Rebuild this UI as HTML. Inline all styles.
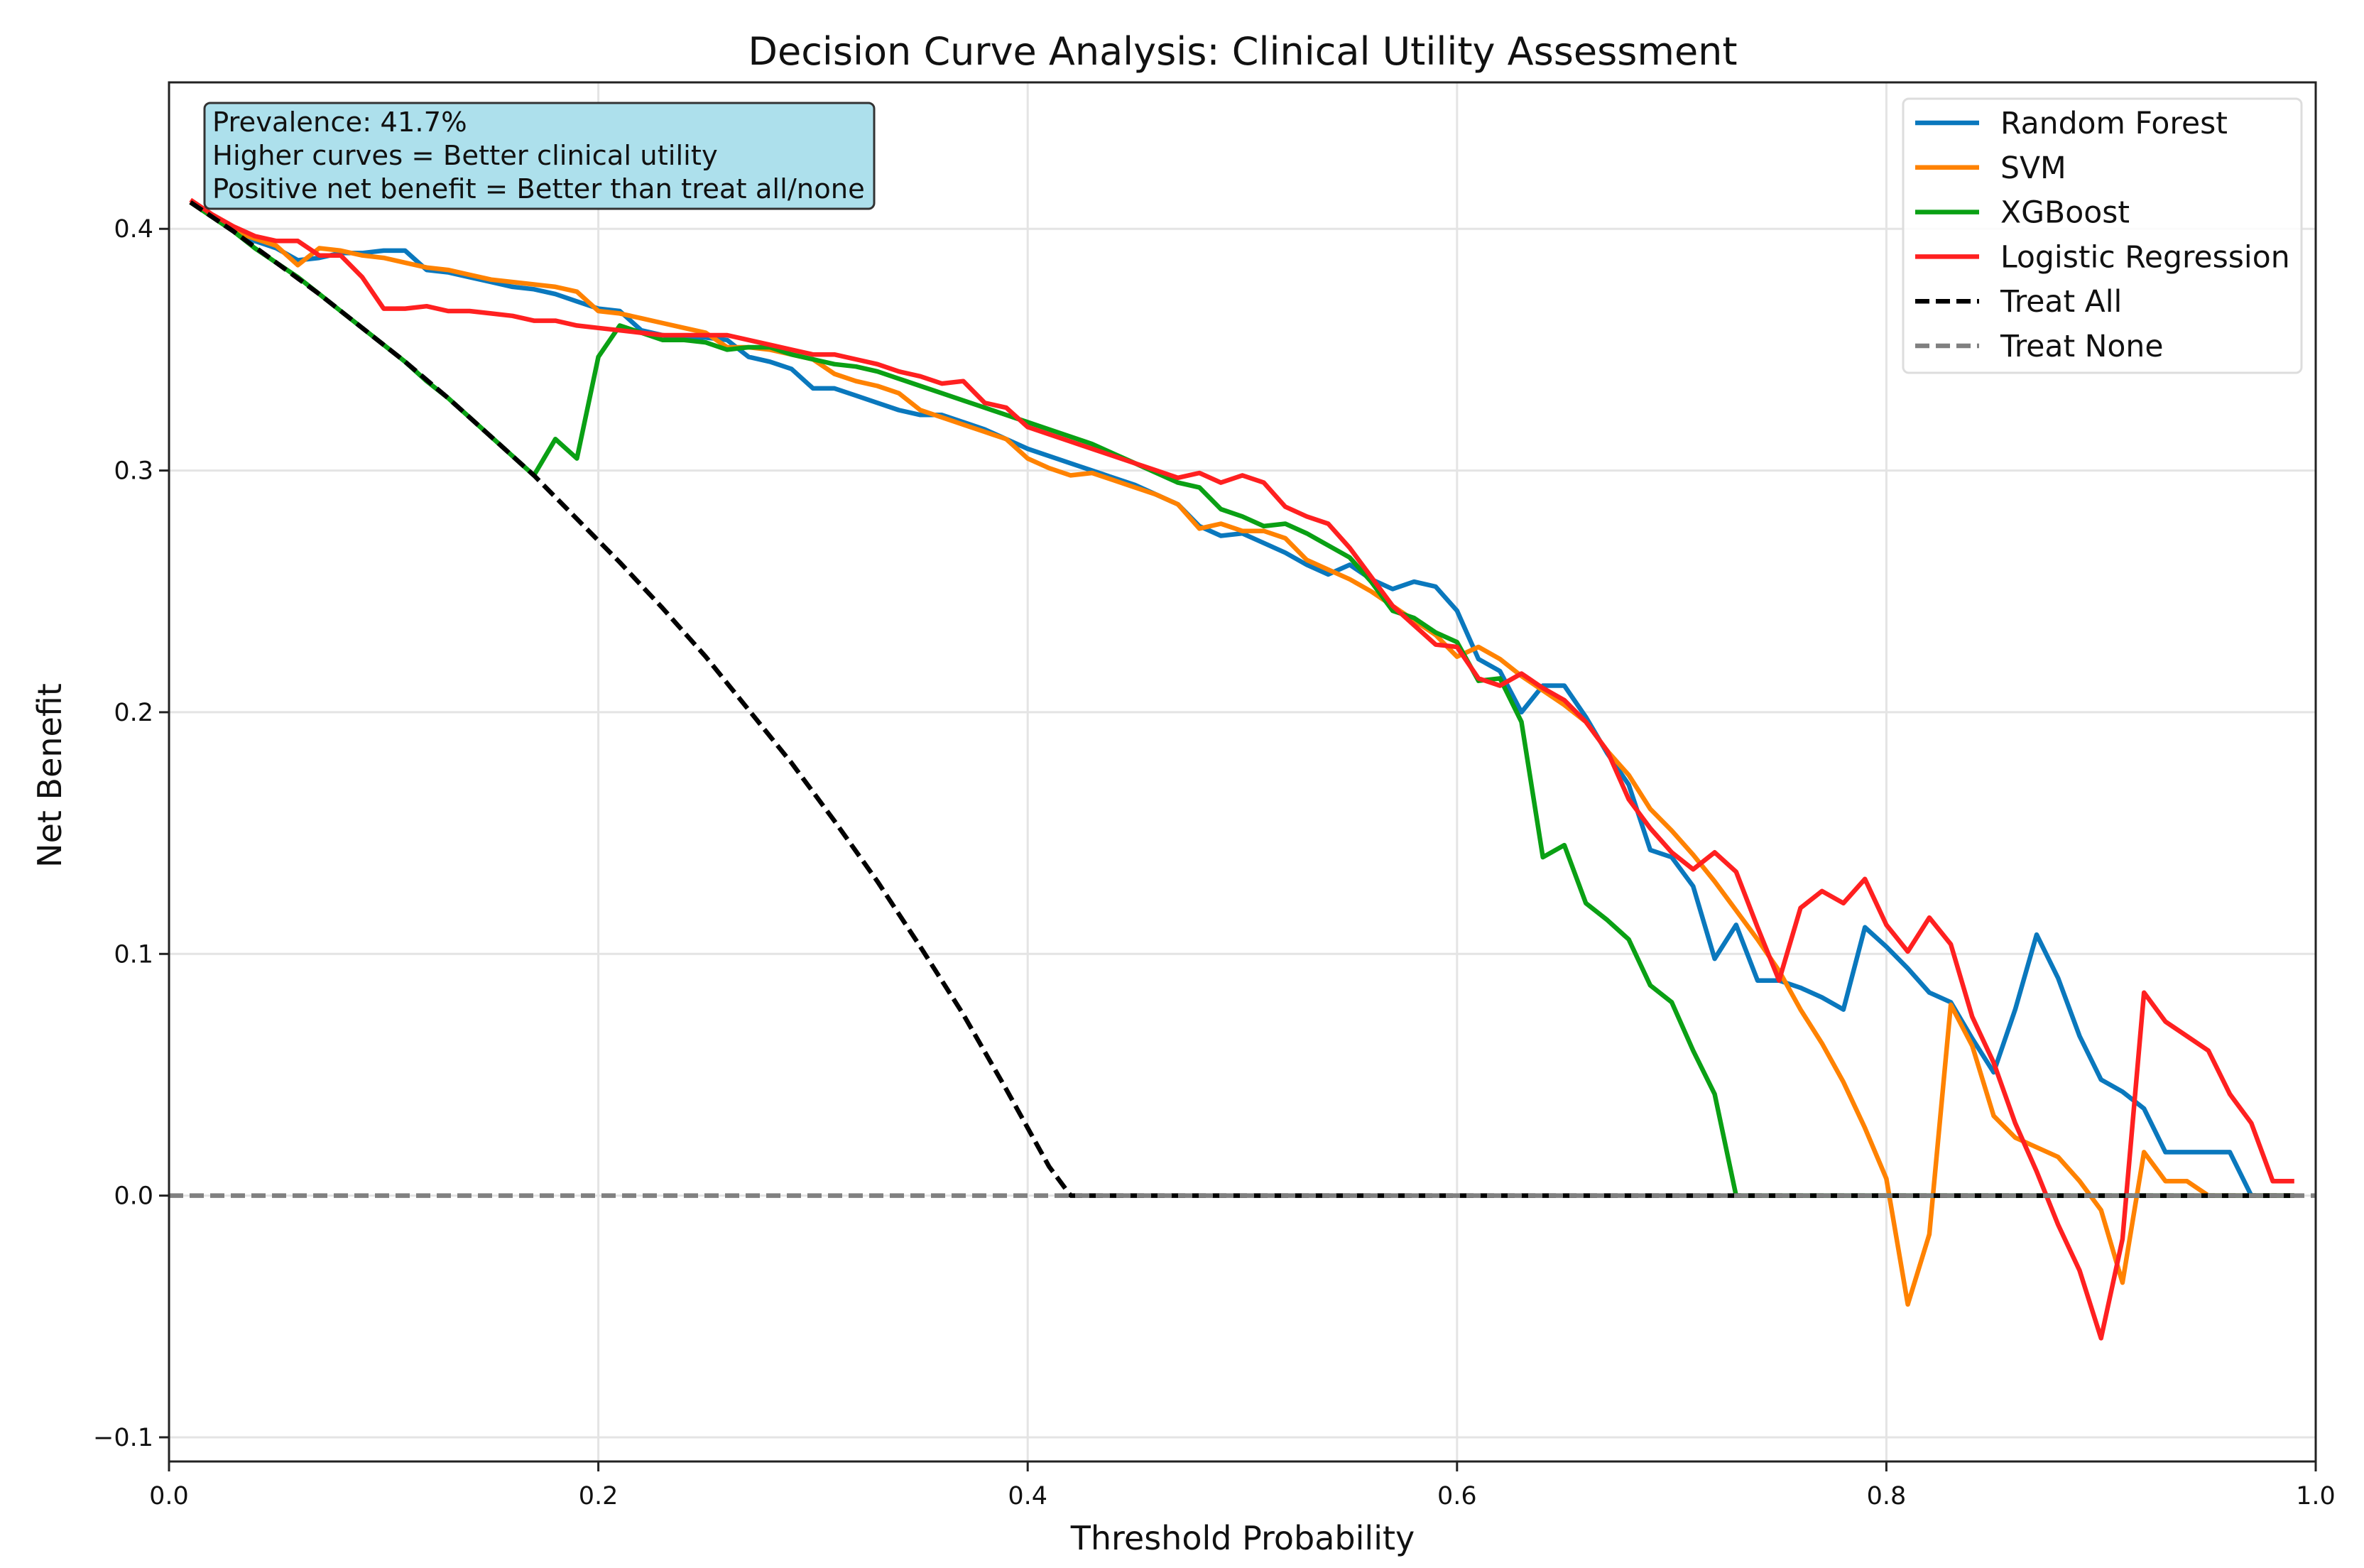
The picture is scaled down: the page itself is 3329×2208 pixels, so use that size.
<!DOCTYPE html>
<html><head><meta charset="utf-8"><style>
html,body{margin:0;padding:0;background:#fff;}
svg{display:block;font-family:"DejaVu Sans","Liberation Sans",sans-serif;}
</style></head><body>
<svg id="chart" width="3329" height="2208" viewBox="0 0 3329 2208" xmlns="http://www.w3.org/2000/svg">
<rect width="3329" height="2208" fill="#fff"/>
<g id="grid"></g>
<g id="series"></g>
<rect x="238" y="116" width="3023" height="1942" fill="none" stroke="#222" stroke-width="3"/>
<g id="ticks"></g>
<text x="1750" y="91" text-anchor="middle" font-size="54" fill="#111">Decision Curve Analysis: Clinical Utility Assessment</text>
<text x="1750" y="2182" text-anchor="middle" font-size="46" fill="#111">Threshold Probability</text>
<text transform="translate(86,1092) rotate(-90)" text-anchor="middle" font-size="46" fill="#111">Net Benefit</text>
<g>
<rect x="288" y="145" width="943" height="149" rx="8" fill="#ade0ec" stroke="#333" stroke-width="3"/>
<text x="299" y="185" font-size="38.5" fill="#111">Prevalence: 41.7%</text>
<text x="299" y="232" font-size="38.5" fill="#111">Higher curves = Better clinical utility</text>
<text x="299" y="279" font-size="38.5" fill="#111">Positive net benefit = Better than treat all/none</text>
</g>
<g id="legend">
<rect x="2680" y="139" width="561" height="386" rx="8" fill="#fff" fill-opacity="0.85" stroke="#ddd" stroke-width="3"/>
</g>
</svg>
<script>
const thresholds = [];
for (let i = 1; i <= 99; i++) thresholds.push(i / 100);
const xTicks = [0.0, 0.2, 0.4, 0.6, 0.8, 1.0];
const xTickLabels = ["0.0", "0.2", "0.4", "0.6", "0.8", "1.0"];
const yTicks = [-0.1, 0.0, 0.1, 0.2, 0.3, 0.4];
const yTickLabels = ["\u22120.1", "0.0", "0.1", "0.2", "0.3", "0.4"];
const rfValues = [.411,.405,.399,.395,.392,.387,.388,.390,.390,.391,.391,.383,.382,.380,.378,.376,.375,.373,.370,.367,.366,.358,.356,.355,.355,.354,.347,.345,.342,.334,.334,.331,.328,.325,.323,.323,.320,.317,.313,.309,.306,.303,.300,.297,.294,.290,.286,.277,.273,.274,.270,.266,.261,.257,.261,.255,.251,.254,.252,.242,.222,.217,.200,.211,.211,.198,.183,.170,.143,.140,.128,.098,.112,.089,.089,.086,.082,.077,.111,.103,.094,.084,.080,.065,.051,.077,.108,.090,.066,.048,.043,.036,.018,.018,.018,.018,0,0,0];
const svmValues = [.411,.405,.399,.396,.393,.385,.392,.391,.389,.388,.386,.384,.383,.381,.379,.378,.377,.376,.374,.366,.365,.363,.361,.359,.357,.351,.351,.350,.348,.346,.340,.337,.335,.332,.325,.322,.319,.316,.313,.305,.301,.298,.299,.296,.293,.290,.286,.276,.278,.275,.275,.272,.263,.259,.255,.250,.244,.238,.232,.223,.227,.222,.215,.209,.203,.196,.184,.174,.160,.151,.141,.130,.118,.106,.093,.077,.063,.047,.028,.007,-.045,-.016,.079,.062,.033,.024,.020,.016,.006,-.006,-.036,.018,.006,.006,0,0,0,0,0];
const xgbValues = [.411,.405,.399,.392,.386,.380,.373,.366,.359,.352,.345,.337,.330,.322,.314,.306,.298,.313,.305,.347,.360,.357,.354,.354,.353,.350,.351,.351,.348,.346,.344,.343,.341,.338,.335,.332,.329,.326,.323,.320,.317,.314,.311,.307,.303,.299,.295,.293,.284,.281,.277,.278,.274,.269,.264,.254,.242,.239,.233,.229,.213,.214,.196,.140,.145,.121,.114,.106,.087,.080,.060,.042,0,0,0,0,0,0,0,0,0,0,0,0,0,0,0,0,0,0,0,0,0,0,0,0,0,0,0];
const lrValues = [.412,.406,.401,.397,.395,.395,.389,.389,.380,.367,.367,.368,.366,.366,.365,.364,.362,.362,.360,.359,.358,.357,.356,.356,.356,.356,.354,.352,.350,.348,.348,.346,.344,.341,.339,.336,.337,.328,.326,.318,.315,.312,.309,.306,.303,.300,.297,.299,.295,.298,.295,.285,.281,.278,.268,.256,.244,.236,.228,.227,.214,.211,.216,.210,.205,.196,.184,.164,.152,.142,.135,.142,.134,.111,.089,.119,.126,.121,.131,.112,.101,.115,.104,.074,.055,.030,.010,-.012,-.031,-.059,-.018,.084,.072,.066,.060,.042,.030,.006,.006];
const treatAllX = [0.01,0.03,0.05,0.07,0.09,0.11,0.13,0.15,0.17,0.19,0.21,0.23,0.25,0.27,0.29,0.31,0.33,0.35,0.37,0.39,0.41,0.42,0.99];
const treatAllValues = [.411,.399,.386,.373,.359,.345,.330,.314,.298,.280,.262,.243,.223,.201,.179,.155,.130,.103,.075,.044,.012,0,0];
const treatNoneX = [0.0, 1.0];
const treatNoneValues = [0, 0];

const NS = "http://www.w3.org/2000/svg";
const X0 = 238, X1 = 3261, Y_TOP = 116, Y_BOT = 2058;
const yMin = -0.11, yMax = 0.4606;
function xScale(v){ return X0 + (v - 0) / (1 - 0) * (X1 - X0); }
function yScale(v){ return Y_BOT - (v - yMin) / (yMax - yMin) * (Y_BOT - Y_TOP); }
function mk(tag, attrs, parent){ const e = document.createElementNS(NS, tag); for (const k in attrs) e.setAttribute(k, attrs[k]); parent.appendChild(e); return e; }

const grid = document.getElementById('grid');
const ticks = document.getElementById('ticks');
xTicks.forEach((t, i) => {
  const gl = mk('line', {x1:xScale(t), x2:xScale(t), y1:Y_TOP, y2:Y_BOT, stroke:'#e4e4e4', 'stroke-width':3}, grid);
  
  
  const tk = mk('line', {x1:xScale(t), x2:xScale(t), y1:Y_BOT, y2:Y_BOT+14, stroke:'#222', 'stroke-width':3}, ticks);
  
  
  const tl = mk('text', {x:xScale(t), y:Y_BOT+60, 'text-anchor':'middle', 'font-size':35, fill:'#111'}, ticks);
  tl.textContent = xTickLabels[i];
  
  
});
yTicks.forEach((t, i) => {
  const gl = mk('line', {x1:X0, x2:X1, y1:yScale(t), y2:yScale(t), stroke:'#e4e4e4', 'stroke-width':3}, grid);
  
  
  const tk = mk('line', {x1:X0-14, x2:X0, y1:yScale(t), y2:yScale(t), stroke:'#222', 'stroke-width':3}, ticks);
  
  
  const tl = mk('text', {x:X0-22, y:yScale(t)+12, 'text-anchor':'end', 'font-size':35, fill:'#111'}, ticks);
  tl.textContent = yTickLabels[i];
  
  
});

const seriesLayer = document.getElementById('series');
function drawLine(xs, ys, color, dash, name){
  const d = xs.map((x, i) => (i ? 'L' : 'M') + xScale(x).toFixed(1) + ',' + yScale(ys[i]).toFixed(1)).join(' ');
  const p = mk('path', {d:d, fill:'none', stroke:color, 'stroke-width':6.5, 'stroke-linejoin':'round'}, seriesLayer);
  if (dash) p.setAttribute('stroke-dasharray', dash);
  
  
}
drawLine(thresholds, rfValues, '#0a78bd', null, 'random-forest-line');
drawLine(thresholds, svmValues, '#ff8200', null, 'svm-line');
drawLine(thresholds, xgbValues, '#0aa014', null, 'xgboost-line');
drawLine(thresholds, lrValues, '#ff2020', null, 'logistic-regression-line');
drawLine(treatAllX, treatAllValues, '#000', '20,9', 'treat-all-line');
drawLine(treatNoneX, treatNoneValues, '#808080', '20,9', 'treat-none-line');

const legend = document.getElementById('legend');
const legendLabels = ["Random Forest", "SVM", "XGBoost", "Logistic Regression", "Treat All", "Treat None"];
const legendColors = ['#0a78bd', '#ff8200', '#0aa014', '#ff2020', '#000', '#808080'];
legendLabels.forEach((lab, i) => {
  const cy = 173 + i * 62.8;
  const ln = mk('line', {x1:2697, x2:2787, y1:cy, y2:cy, stroke:legendColors[i], 'stroke-width':6.5}, legend);
  if (i >= 4) ln.setAttribute('stroke-dasharray', '20,9');
  
  
  const tx = mk('text', {x:2817, y:cy+15, 'font-size':42.5, fill:'#111'}, legend);
  tx.textContent = lab;
  
  
});
</script>
</body></html>
